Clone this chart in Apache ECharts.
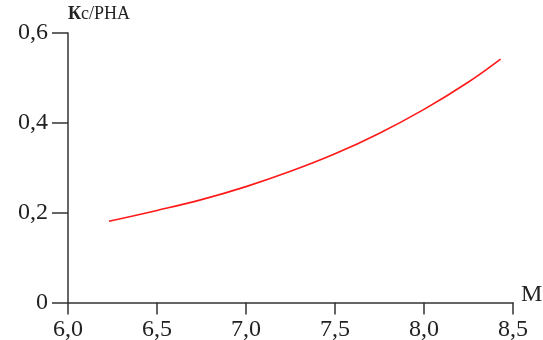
<!DOCTYPE html>
<html>
<head>
<meta charset="utf-8">
<script src="https://cdn.jsdelivr.net/npm/echarts@6/dist/echarts.min.js"></script>
<style>
  html, body { margin: 0; padding: 0; background: #fff; }
  #chart { width: 543px; height: 340px; }
</style>
</head>
<body>
<div id="chart"></div>
<script>
// Magnitude M and ratio Кс/PHA
const magnitude = [6.23, 6.5, 6.75, 7.0, 7.25, 7.5, 7.75, 8.0, 8.25, 8.43];
const ratio     = [0.181, 0.205, 0.229, 0.258, 0.292, 0.331, 0.377, 0.430, 0.491, 0.542];

const xTicks = [6.0, 6.5, 7.0, 7.5, 8.0, 8.5];
const yTicks = [0, 0.2, 0.4, 0.6];

const comma = v => (v === 0 ? '0' : v.toFixed(1).replace('.', ','));
const serif = "'Liberation Serif', 'DejaVu Serif', serif";
const axisColor = '#333';
const textColor = '#222';

const chart = echarts.init(document.getElementById('chart'));
chart.setOption({
  animation: false,
  grid: { left: 68, right: 30, top: 33, bottom: 37.5, outerBoundsMode: 'none', containLabel: false },
  xAxis: {
    type: 'value',
    min: xTicks[0],
    max: xTicks[xTicks.length - 1],
    interval: 0.5,
    name: 'M',
    nameLocation: 'end',
    nameGap: 8,
    nameTextStyle: { fontFamily: serif, fontSize: 24, color: textColor, verticalAlign: 'bottom', padding: [0, 0, -4, 0] },
    axisLine: { show: true, lineStyle: { color: axisColor, width: 1.5 } },
    axisTick: { show: true, inside: false, length: 12, lineStyle: { color: axisColor, width: 1.5 } },
    axisLabel: { formatter: comma, fontFamily: serif, fontSize: 24, color: textColor, margin: 15 },
    splitLine: { show: false }
  },
  yAxis: {
    type: 'value',
    min: yTicks[0],
    max: yTicks[yTicks.length - 1],
    interval: 0.2,
    name: '{b|К}с/PHA',
    nameLocation: 'end',
    nameGap: 10,
    nameTextStyle: {
      fontFamily: serif, fontSize: 18, color: textColor, align: 'left',
      rich: { b: { fontFamily: serif, fontSize: 18, fontWeight: 'bold', color: textColor } }
    },
    axisLine: { show: true, onZero: false, lineStyle: { color: axisColor, width: 1.5 } },
    axisTick: { show: true, inside: false, length: 16, lineStyle: { color: axisColor, width: 1.5 } },
    axisLabel: { formatter: comma, fontFamily: serif, fontSize: 24, color: textColor, margin: 20 },
    splitLine: { show: false }
  },
  series: [{
    type: 'line',
    data: magnitude.map((m, i) => [m, ratio[i]]),
    smooth: 0.4,
    symbol: 'none',
    lineStyle: { color: '#ff1a1a', width: 1.6 }
  }]
});
</script>
</body>
</html>
